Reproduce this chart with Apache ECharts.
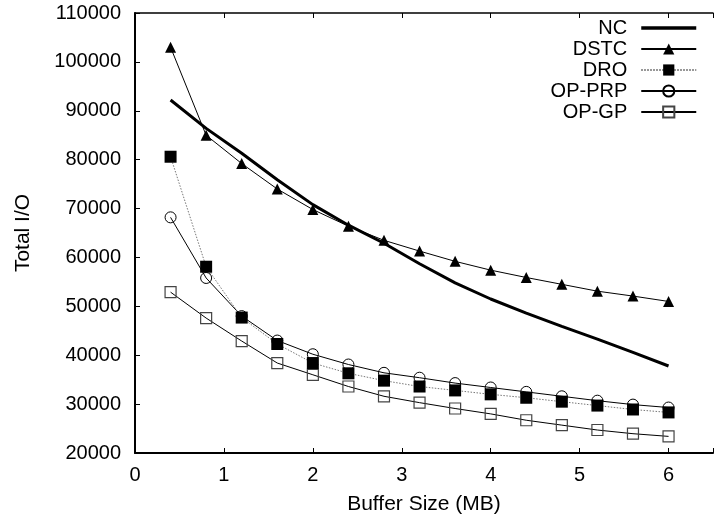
<!DOCTYPE html>
<html>
<head>
<meta charset="utf-8">
<script src="https://cdn.jsdelivr.net/npm/echarts@6/dist/echarts.min.js"></script>
<style>
html,body{margin:0;padding:0;background:#fff;}
#chart{width:716px;height:523px;}
</style>
</head>
<body>
<div id="chart"></div>
<script>
const bufferSizes = [0.4, 0.8, 1.2, 1.6, 2.0, 2.4, 2.8, 3.2, 3.6, 4.0, 4.4, 4.8, 5.2, 5.6, 6.0];
const seriesNames = ['NC', 'DSTC', 'DRO', 'OP-PRP', 'OP-GP'];
const ncValues    = [92200, 86400, 81300, 75900, 70800, 66600, 62900, 58700, 54800, 51500, 48600, 45900, 43300, 40600, 37800];
const dstcValues  = [103000, 85000, 79200, 74000, 69800, 66400, 63500, 61300, 59200, 57400, 55900, 54500, 53100, 52100, 51000];
const droValues   = [80600, 58100, 47700, 42300, 38400, 36300, 34800, 33600, 32800, 32000, 31300, 30500, 29700, 28900, 28300];
const opprpValues = [68200, 55800, 48000, 43000, 40200, 38100, 36400, 35400, 34300, 33400, 32500, 31600, 30700, 29900, 29300];
const opgpValues  = [52900, 47600, 42900, 38400, 36000, 33600, 31600, 30300, 29100, 28000, 26700, 25700, 24700, 23950, 23400];
const xLabel = 'Buffer Size (MB)';
const yLabel = 'Total I/O';

function pairs(vals){ return bufferSizes.map((x,i)=>[x, vals[i]]); }

const FONT = 'Liberation Sans, Arial, sans-serif';
const chart = echarts.init(document.getElementById('chart'), null, {renderer:'canvas'});
chart.setOption({
  animation:false,
  backgroundColor:'#fff',
  textStyle:{fontFamily:FONT},
  grid:{left:135, top:13, right:-16, bottom:70, containLabel:false},
  legend:{
    orient:'vertical', align:'right', right:18, top:17.5, padding:0,
    itemWidth:55, itemHeight:14, itemGap:0,
    textStyle:{fontFamily:FONT, fontSize:20, color:'#000', lineHeight:21, padding:[0,9,0,0]},
    data:[
      {name:'NC', itemStyle:{opacity:0}, lineStyle:{width:3.5, color:'#000'}},
      {name:'DSTC'}, {name:'DRO'}, {name:'OP-PRP'}, {name:'OP-GP'}
    ]
  },
  xAxis:[{
    type:'value', min:0, max:6.5, interval:1, position:'bottom',
    name:xLabel, nameLocation:'middle', nameGap:41,
    nameTextStyle:{fontFamily:FONT, fontSize:21, color:'#000'},
    axisLine:{show:true, onZero:false, lineStyle:{color:'#000', width:2}},
    axisTick:{show:true, inside:true, length:5, lineStyle:{color:'#000', width:1}},
    axisLabel:{fontFamily:FONT, fontSize:20, color:'#000', margin:12,
      formatter:v=> (Math.abs(v-Math.round(v))<1e-9 ? String(v) : '')},
    splitLine:{show:false}
  },{
    type:'value', min:0, max:6.5, interval:1, position:'top',
    axisLine:{show:true, onZero:false, lineStyle:{color:'#000', width:1.5}},
    axisTick:{show:true, inside:true, length:5, lineStyle:{color:'#000', width:1}},
    axisLabel:{show:false}, splitLine:{show:false}
  }],
  yAxis:{
    type:'value', min:20000, max:110000, interval:10000,
    name:yLabel, nameLocation:'middle', nameGap:101, nameRotate:90,
    nameTextStyle:{fontFamily:FONT, fontSize:21, color:'#000'},
    axisLine:{show:true, onZero:false, lineStyle:{color:'#000', width:2}},
    axisTick:{show:true, inside:true, length:5, lineStyle:{color:'#000', width:1}},
    axisLabel:{fontFamily:FONT, fontSize:20, color:'#000', margin:14, formatter:v=>String(v)},
    splitLine:{show:false}
  },
  series:[
    {name:'NC', type:'line', data:pairs(ncValues), showSymbol:false, symbol:'none',
     lineStyle:{color:'#000', width:3}, itemStyle:{color:'#000'}, z:2},
    {name:'DSTC', type:'line', data:pairs(dstcValues), symbol:'triangle', symbolSize:11,
     lineStyle:{color:'#000', width:1}, itemStyle:{color:'#000'}, z:3},
    {name:'DRO', type:'line', data:pairs(droValues), symbol:'rect', symbolSize:12,
     lineStyle:{color:'#777', width:1, type:[1.5,1.5]}, itemStyle:{color:'#000'}, z:5},
    {name:'OP-PRP', type:'line', data:pairs(opprpValues), symbol:'circle', symbolSize:11,
     lineStyle:{color:'#000', width:1}, itemStyle:{color:'rgba(255,255,255,0)', borderColor:'#000', borderWidth:1}, z:4},
    {name:'OP-GP', type:'line', data:pairs(opgpValues), symbol:'rect', symbolSize:11,
     lineStyle:{color:'#000', width:1}, itemStyle:{color:'rgba(255,255,255,0)', borderColor:'#444', borderWidth:1.2}, z:4}
  ]
});
</script>
</body>
</html>
